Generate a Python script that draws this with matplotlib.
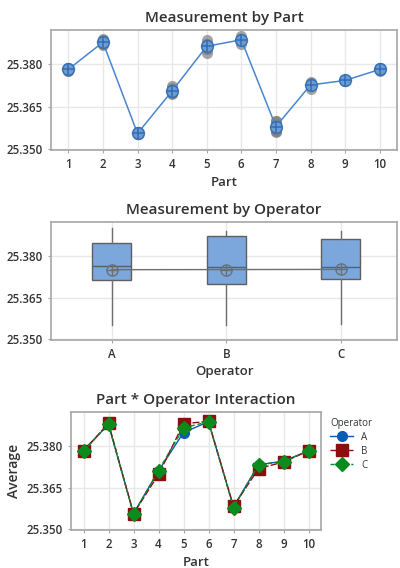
#!/usr/bin/env python3
"""Gage R&R style panels: measurement by part, by operator, and interaction."""

import numpy as np
import matplotlib.pyplot as plt

parts = [1, 2, 3, 4, 5, 6, 7, 8, 9, 10]
operators = ["A", "B", "C"]

# two trials per operator, one value per part
a_trial1 = [25.3788, 25.3885, 25.3552, 25.3718, 25.3842, 25.3900, 25.3598, 25.3738, 25.3746, 25.3786]
a_trial2 = [25.3782, 25.3869, 25.3560, 25.3702, 25.3854, 25.3874, 25.3562, 25.3726, 25.3744, 25.3778]
b_trial1 = [25.3783, 25.3889, 25.3552, 25.3694, 25.3888, 25.3889, 25.3600, 25.3722, 25.3744, 25.3785]
b_trial2 = [25.3777, 25.3875, 25.3560, 25.3700, 25.3872, 25.3887, 25.3564, 25.3714, 25.3740, 25.3779]
c_trial1 = [25.3786, 25.3883, 25.3553, 25.3724, 25.3874, 25.3889, 25.3592, 25.3736, 25.3745, 25.3787]
c_trial2 = [25.3778, 25.3871, 25.3557, 25.3698, 25.3856, 25.3885, 25.3564, 25.3728, 25.3741, 25.3779]

y_ticks = [25.350, 25.365, 25.380]

trials = {
    "A": [a_trial1, a_trial2],
    "B": [b_trial1, b_trial2],
    "C": [c_trial1, c_trial2],
}

plt.rcParams["font.family"] = ["Open Sans", "DejaVu Sans"]

W, H = 400, 568
fig = plt.figure(figsize=(W / 100, H / 100), dpi=100)


def rect(left, top, right, bottom):
    return [left / W, 1 - bottom / H, (right - left) / W, (bottom - top) / H]


FRAME = "#a6a6a6"
GRID = "#e8e8e8"
TXT = "#333333"


def style(ax, title, xlabel, ylabel=None):
    ax.set_ylim(25.3497, 25.3922)
    ax.set_yticks(y_ticks)
    ax.set_yticklabels([f"{v:.3f}" for v in y_ticks])
    ax.grid(True, color=GRID, linewidth=1.0)
    ax.set_axisbelow(True)
    for s in ax.spines.values():
        s.set_color(FRAME)
        s.set_linewidth(1.2)
    ax.tick_params(colors=FRAME, labelcolor=TXT, labelsize=8.3, length=2.5, width=0.8)
    for lab in ax.get_xticklabels() + ax.get_yticklabels():
        lab.set_fontweight("semibold")
    ax.set_title(title, fontsize=11, fontweight="semibold", color=TXT, pad=6)
    ax.set_xlabel(xlabel, fontsize=9.5, color=TXT, fontweight="semibold", labelpad=3)
    if ylabel:
        ax.set_ylabel(ylabel, fontsize=10, color=TXT, fontweight="semibold", labelpad=4)


# ---- panel 1: measurement by part
ax1 = fig.add_axes(rect(51, 30, 397, 150))
all_vals = np.array([t for op in operators for t in trials[op]])  # (6, 10)
for row in all_vals:
    ax1.plot(parts, row, "o", ls="none", color="#7f7f7f", alpha=0.7, ms=8, mec="none", zorder=2)
part_means = all_vals.mean(axis=0)
ax1.plot(parts, part_means, "-", color="#4a86d0", lw=1.1, zorder=3)
ax1.plot(parts, part_means, "o", ls="none", ms=8.5, mfc="#6f9fd8", mec="#2f6db5",
         mew=1.1, alpha=0.9, zorder=4)
ax1.plot(parts, part_means, "+", ls="none", ms=8.5, color="#2f6db5", mew=1.1, zorder=4)
ax1.set_xlim(0.5, 10.5)
ax1.set_xticks(parts)
style(ax1, "Measurement by Part", "Part")

# ---- panel 2: measurement by operator
ax2 = fig.add_axes(rect(51, 222, 397, 340))
op_data = [np.concatenate(trials[op]) for op in operators]
pos = [1, 2, 3]
ax2.boxplot(
    op_data, positions=pos, widths=0.34, patch_artist=True, whis=(0, 100),
    boxprops=dict(facecolor="#7ba7dc", edgecolor="#5f5f5f", linewidth=1.0),
    medianprops=dict(color="#5f5f5f", linewidth=1.0),
    whiskerprops=dict(color="#6f6f6f", linewidth=1.0),
    capprops=dict(linewidth=0), showfliers=False, zorder=3,
)
op_means = [d.mean() for d in op_data]
ax2.plot(pos, op_means, "-", color="#6f6f6f", lw=1.0, zorder=4)
ax2.plot(pos, op_means, "o", ls="none", ms=8, mfc="none", mec="#6f6f6f", mew=1.0, zorder=5)
ax2.plot(pos, op_means, "+", ls="none", ms=8, color="#6f6f6f", mew=1.0, zorder=5)
ax2.set_xlim(0.47, 3.49)
ax2.set_xticks(pos)
ax2.set_xticklabels(operators)
style(ax2, "Measurement by Operator", "Operator")

# ---- panel 3: interaction
ax3 = fig.add_axes(rect(71, 412, 321, 530))
styles = {
    "A": dict(color="#0a5bb5", marker="o", ls="-", ms=7),
    "B": dict(color="#8b0f0f", marker="s", ls=(0, (5, 1.5)), ms=8),
    "C": dict(color="#0b8a1e", marker="D", ls=(0, (3, 2)), ms=7),
}
handles = []
for op in ["A", "B", "C"]:
    means = np.mean(trials[op], axis=0)
    st = styles[op]
    (h,) = ax3.plot(parts, means, lw=1.0, mec=st["color"], zorder=3, **st)
    handles.append(h)
ax3.set_xlim(0.5, 10.5)
ax3.set_xticks(parts)
style(ax3, "Part * Operator Interaction", "Part", "Average")
leg = fig.legend(
    handles, operators, title="Operator", loc="upper left",
    bbox_to_anchor=(326 / W, 1 - 414 / H), frameon=False, fontsize=7,
    title_fontsize=7, handlelength=2.4, labelspacing=0.3, borderaxespad=0,
)
leg._legend_box.align = "left"
for t in leg.get_texts():
    t.set_color(TXT)
leg.get_title().set_color(TXT)

fig.savefig("out.png", dpi=100)
